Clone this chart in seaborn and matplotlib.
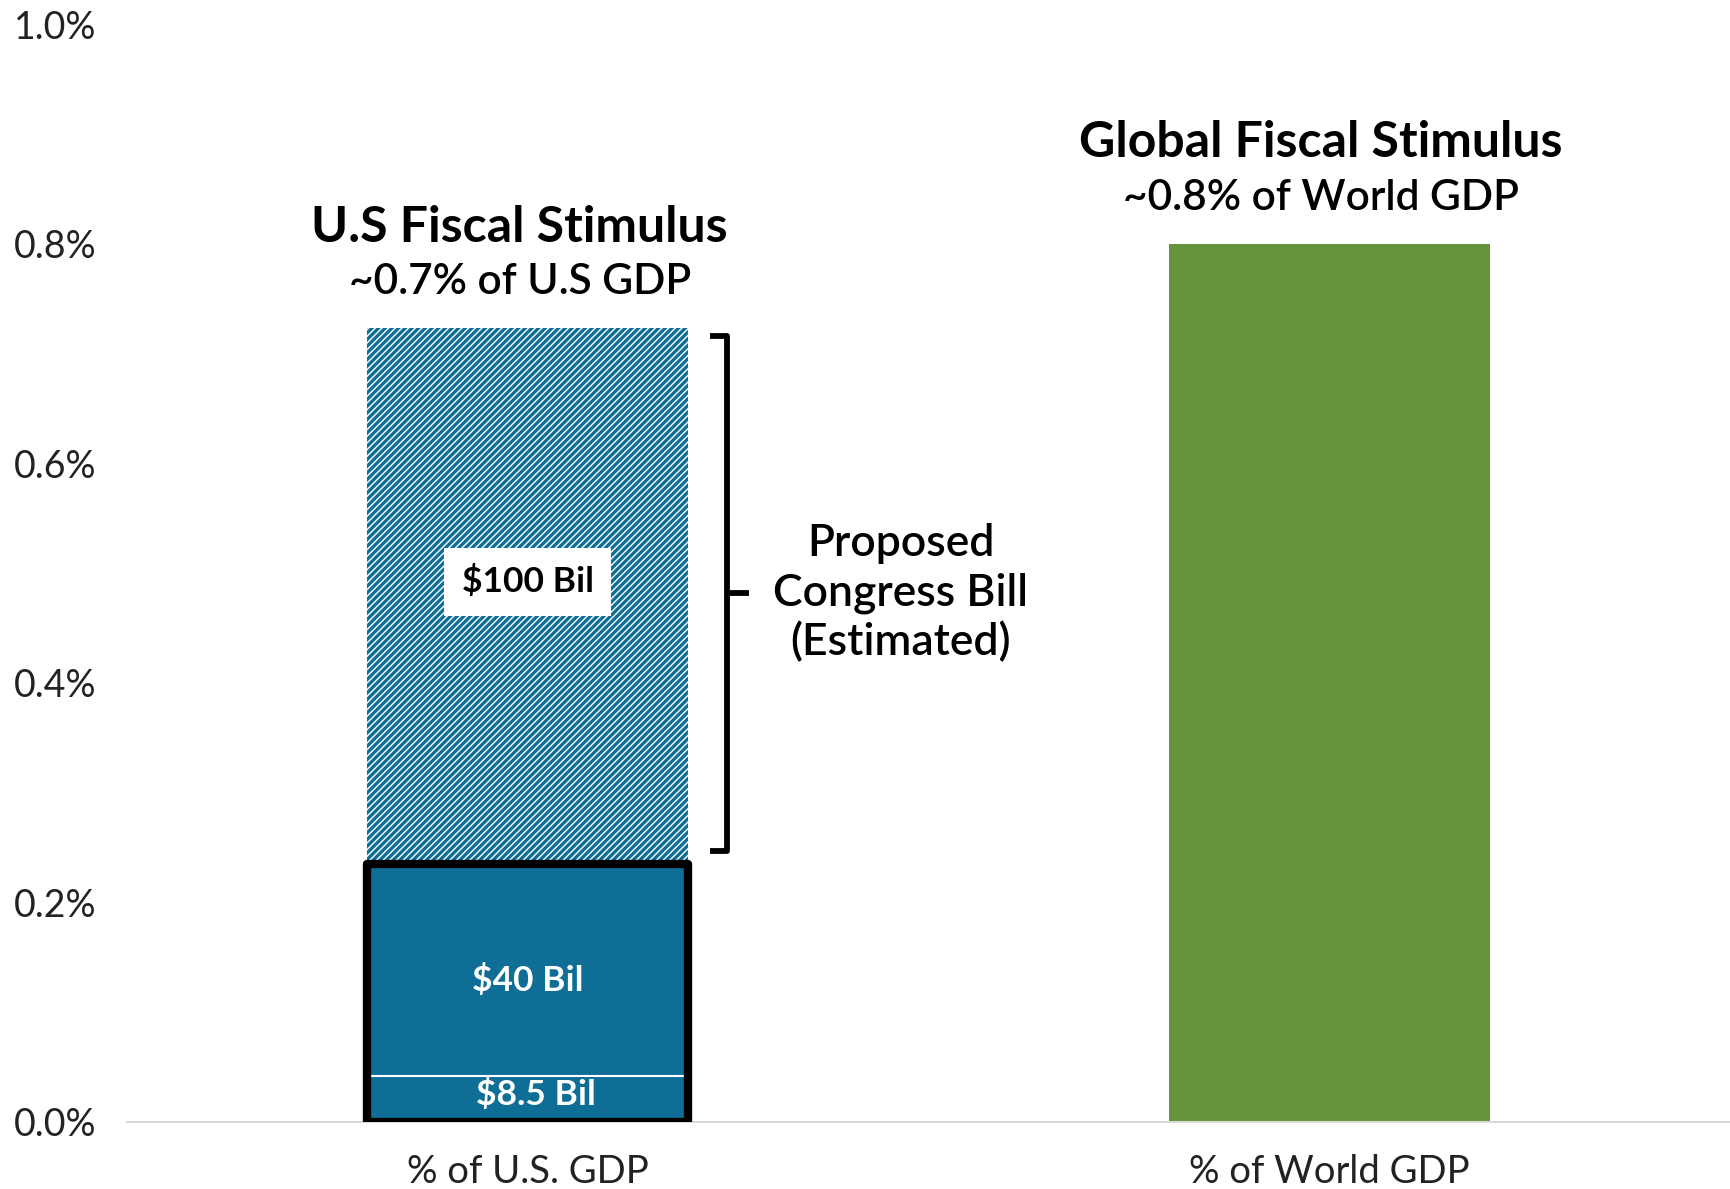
import numpy as np
import seaborn as sns
import matplotlib.pyplot as plt
from matplotlib.ticker import FuncFormatter

# data (% of GDP)
categories = ['% of U.S. GDP', '% of World GDP']
us_segments = [0.042, 0.193, 0.488]          # $8.5 Bil, $40 Bil, $100 Bil
us_labels = ['$8.5 Bil', '$40 Bil', '$100 Bil']
world_value = 0.80
y_ticks = [0.0, 0.2, 0.4, 0.6, 0.8, 1.0]
us_title = ['U.S Fiscal Stimulus', '~0.7% of U.S GDP']
world_title = ['Global Fiscal Stimulus', '~0.8% of World GDP']
bracket_text = 'Proposed\nCongress Bill\n(Estimated)'

BLUE = '#0E6E96'
GREEN = '#66943A'
BAR_W = 0.4

sns.set_theme(style='white')
plt.rcParams['font.family'] = ['Lato', 'DejaVu Sans']
plt.rcParams['hatch.linewidth'] = 2.4

fig = plt.figure(figsize=(17.3, 11.89), dpi=100)
ax = fig.add_axes([0.0734, 0.0564, 0.9266, 0.9234])

us_cum = np.cumsum(us_segments)


def add_bar(cat, value, **style):
    """Рисует один столбец через seaborn и донастраивает его патчи."""
    n = len(ax.patches)
    sns.barplot(x=[cat], y=[value], order=categories, width=BAR_W,
                color=style.pop('color', BLUE), saturation=1,
                errorbar=None, ax=ax)
    for p in ax.patches[n:]:
        p.set(**style)


# 1. Заштрихованная часть (законопроект)
add_bar(categories[0], us_cum[2], color='white', facecolor='white',
        edgecolor=BLUE, hatch='/////', linewidth=0)
# 2. Уже выделенные средства
add_bar(categories[0], us_cum[1], linewidth=0)
add_bar(categories[0], us_cum[0], edgecolor='white', linewidth=1.5)
# рамка вокруг нижней части
add_bar(categories[0], us_cum[1], facecolor='none', edgecolor='black',
        linewidth=6, joinstyle='round', zorder=3)
# 3. Мировой стимул
add_bar(categories[1], world_value, color=GREEN, linewidth=0)

# подписи внутри столбца
ax.text(0.01, us_cum[0] / 2 + 0.004, us_labels[0], ha='center', va='center',
        color='white', fontsize=25.5, fontweight='bold', zorder=4)
ax.text(0, (us_cum[0] + us_cum[1]) / 2 - 0.01, us_labels[1], ha='center',
        va='center', color='white', fontsize=25.5, fontweight='bold', zorder=4)
ax.text(0, (us_cum[1] + us_cum[2]) / 2 + 0.013, us_labels[2], ha='center',
        va='center', color='black', fontsize=25.5, fontweight='bold', zorder=4,
        bbox=dict(boxstyle='square,pad=0.5', facecolor='white', edgecolor='none'))

# заголовки над столбцами
for x, top, (t1, t2) in [(0, us_cum[2], us_title), (1, world_value, world_title)]:
    ax.text(x - 0.01, top + 0.0785, t1, ha='center', va='baseline',
            fontsize=36, fontweight='bold', color='black')
    ax.text(x - 0.01, top + 0.031, t2, ha='center', va='baseline',
            fontsize=30.5, fontweight='semibold', color='black')

# фигурная скобка
bx = BAR_W / 2 + 0.049
b_top = us_cum[2] - 0.007
b_bot = us_cum[1] + 0.012
b_mid = (b_top + b_bot) / 2
ax.plot([bx - 0.021, bx, bx, bx - 0.021], [b_top, b_top, b_bot, b_bot],
        color='black', lw=4.2, solid_joinstyle='round', solid_capstyle='butt')
ax.plot([bx, bx + 0.027], [b_mid, b_mid], color='black', lw=4.2,
        solid_capstyle='butt')
ax.text(bx + 0.216, b_mid, bracket_text, ha='center', va='center',
        fontsize=32, fontweight='semibold', color='black', linespacing=1.25)

# оси
ax.set_xlim(-0.5, 1.5)
ax.set_ylim(0, 1.0)
ax.set_yticks(y_ticks)
ax.yaxis.set_major_formatter(FuncFormatter(lambda v, _: f'{v:.1f}%'))
ax.set_xlabel('')
ax.set_ylabel('')
ax.tick_params(axis='y', length=0, pad=22, labelsize=27, labelcolor='#222222')
ax.tick_params(axis='x', length=0, pad=23, labelsize=27.5, labelcolor='#222222')
sns.despine(ax=ax, left=True)
ax.spines['bottom'].set_color('#D9D9D9')
ax.spines['bottom'].set_linewidth(1.5)

fig.savefig('out.png', dpi=100)
